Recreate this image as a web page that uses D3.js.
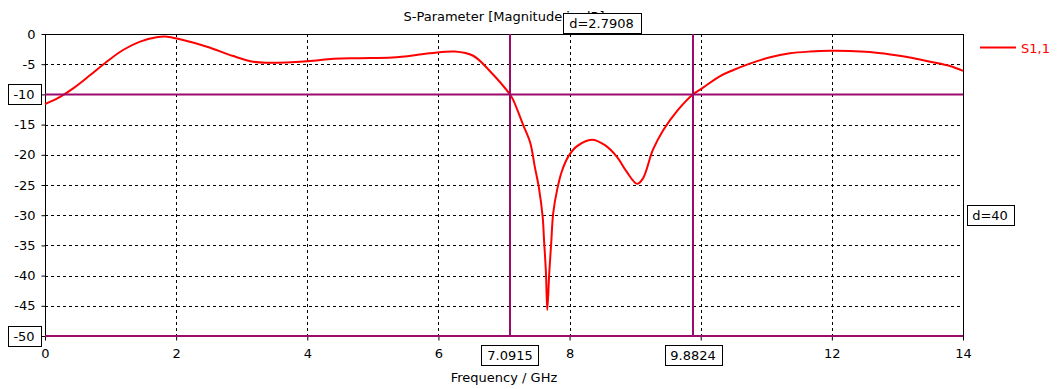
<!DOCTYPE html>
<html>
<head>
    <meta charset="utf-8">
    <title>S-Parameter</title>
    <script src="https://cdn.jsdelivr.net/npm/d3@7"></script>
    <style>
        body { margin: 0; background: #fff; }
        text { font-family: "DejaVu Sans", sans-serif; }
    </style>
</head>
<body>
    <svg width="1058" height="389" id="mainsvg"></svg>
    <script>
        // values
        const freq = [0, 0.23, 0.43, 0.69, 0.94, 1.19, 1.45, 1.70, 1.86, 2.06, 2.47, 2.87, 3.18, 3.39, 4.0, 4.4, 4.8, 5.3, 5.87, 6.25, 6.53, 6.79, 7.09, 7.14, 7.29, 7.40, 7.47, 7.53, 7.59, 7.61, 7.64, 7.66, 7.69, 7.72, 7.75, 7.81, 7.88, 7.98, 8.11, 8.34, 8.54, 8.72, 8.87, 9.03, 9.12, 9.27, 9.43, 9.65, 9.88, 10.02, 10.29, 10.49, 10.75, 11.06, 11.36, 11.67, 11.97, 12.28, 12.58, 12.89, 13.19, 13.5, 13.8, 14.0];
        const s11 = [-11.6, -10.4, -9.0, -6.8, -4.6, -2.65, -1.27, -0.55, -0.44, -0.88, -2.1, -3.65, -4.6, -4.75, -4.5, -4.1, -4.0, -3.9, -3.2, -2.9, -3.6, -6.2, -10.0, -10.9, -15.0, -18.0, -22.0, -25.3, -30.3, -34.0, -39.6, -45.7, -39.6, -34.6, -29.7, -25.8, -22.8, -20.3, -18.6, -17.5, -18.4, -20.3, -22.8, -24.8, -23.9, -19.2, -15.9, -12.6, -10.0, -9.0, -7.0, -6.0, -4.9, -3.85, -3.2, -2.9, -2.76, -2.8, -3.0, -3.4, -3.9, -4.6, -5.3, -6.1];
        const xTicks = [0, 2, 4, 6, 8, 10, 12, 14];
        const yTicks = [0, -5, -10, -15, -20, -25, -30, -35, -40, -45, -50];
        const markerX = [7.0915, 9.8824];
        const markerY = [-10, -50];
        const markerXLabels = ['7.0915', '9.8824'];
        const markerYLabels = ['-10', '-50'];
        const deltaX = 'd=2.7908';
        const deltaY = 'd=40';

        const svg = d3.select('svg');
        const margin = { left: 45, right: 95, top: 34, bottom: 53 };
        const width = +svg.attr('width');
        const height = +svg.attr('height');
        const purple = '#9c0a6c';

        const x = d3.scaleLinear().domain([0, 14]).range([margin.left, width - margin.right]);
        const y = d3.scaleLinear().domain([-50, 0]).range([height - margin.bottom, margin.top]);
        const x0 = x(0), x1 = x(14), y0 = y(0), y1 = y(-50);

        // grid
        svg.append('g').selectAll('line').data(xTicks.slice(1, -1)).join('line')
            .attr('x1', d => Math.round(x(d)) + 0.5).attr('x2', d => Math.round(x(d)) + 0.5)
            .attr('y1', y0).attr('y2', y1)
            .attr('stroke', '#000').attr('stroke-dasharray', '3,3');
        svg.append('g').selectAll('line').data(yTicks.slice(1, -1)).join('line')
            .attr('y1', d => Math.round(y(d)) + 0.5).attr('y2', d => Math.round(y(d)) + 0.5)
            .attr('x1', x0).attr('x2', x1)
            .attr('stroke', '#000').attr('stroke-dasharray', '3,3');

        // frame
        svg.append('rect').attr('x', x0 + 0.5).attr('y', y0 + 0.5)
            .attr('width', x1 - x0).attr('height', y1 - y0)
            .attr('fill', 'none').attr('stroke', '#000');

        // axes (labels hidden where a marker box covers them)
        const xAxis = svg.append('g').attr('transform', `translate(0,${y1 + 0.5})`)
            .call(d3.axisBottom(x).tickValues(xTicks).tickSize(4).tickPadding(8)
                .tickFormat(d => d === 10 ? '' : String(d)));
        const yAxis = svg.append('g').attr('transform', `translate(${x0 + 0.5},0)`)
            .call(d3.axisLeft(y).tickValues(yTicks).tickSize(4).tickPadding(6)
                .tickFormat(d => markerY.includes(d) ? '' : String(d)));
        [xAxis, yAxis].forEach(a => {
            a.select('.domain').remove();
            a.selectAll('text').attr('font-size', 13).attr('fill', '#000').style('font-family', '"DejaVu Sans", sans-serif');
        });

        // curve
        const line = d3.line().x((d, i) => x(freq[i])).y(d => y(d)).curve(d3.curveCatmullRom.alpha(0.5));
        svg.append('path').datum(s11)
            .attr('d', line).attr('fill', 'none').attr('stroke', '#ff0000').attr('stroke-width', 2);

        // markers
        svg.append('g').selectAll('line').data(markerX).join('line')
            .attr('x1', d => x(d)).attr('x2', d => x(d)).attr('y1', y0).attr('y2', y1)
            .attr('stroke', purple).attr('stroke-width', 2);
        svg.append('g').selectAll('line').data(markerY).join('line')
            .attr('y1', d => y(d)).attr('y2', d => y(d)).attr('x1', x0).attr('x2', x1)
            .attr('stroke', purple).attr('stroke-width', 2);

        // title
        svg.append('text').attr('x', (x0 + x1) / 2).attr('y', 21)
            .attr('text-anchor', 'middle').attr('font-size', 13).attr('fill', '#000')
            .text('S-Parameter [Magnitude in dB]');

        svg.append('text').attr('x', (x0 + x1) / 2).attr('y', 382)
            .attr('text-anchor', 'middle').attr('font-size', 13).attr('fill', '#000')
            .text('Frequency / GHz');

        // boxed labels
        function box(cx, cy, w, txt) {
            const g = svg.append('g');
            g.append('rect').attr('x', Math.round(cx - w / 2) + 0.5).attr('y', Math.round(cy - 10) + 0.5)
                .attr('width', w).attr('height', 20).attr('fill', '#fff').attr('stroke', '#000');
            g.append('text').attr('x', cx).attr('y', cy + 5).attr('text-anchor', 'middle')
                .attr('font-size', 13).attr('fill', '#000').text(txt);
        }
        markerY.forEach((v, i) => box(24, y(v), 33, markerYLabels[i]));
        markerX.forEach((v, i) => box(x(v), 355, 57, markerXLabels[i]));
        box((x(markerX[0]) + x(markerX[1])) / 2, 23, 78, deltaX);
        box(990, y((markerY[0] + markerY[1]) / 2), 47, deltaY);

        // legend
        svg.append('line').attr('x1', 980).attr('x2', 1016).attr('y1', 47.5).attr('y2', 47.5)
            .attr('stroke', '#ff0000').attr('stroke-width', 2);
        svg.append('text').attr('x', 1021).attr('y', 53).attr('font-size', 13)
            .attr('fill', '#ff0000').text('S1,1');
    </script>
</body>
</html>
